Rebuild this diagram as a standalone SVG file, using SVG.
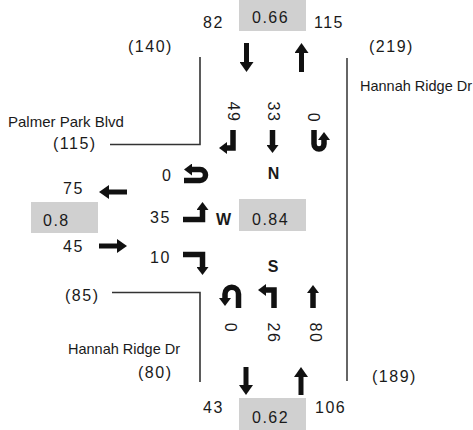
<svg xmlns="http://www.w3.org/2000/svg" width="473" height="430" viewBox="0 0 473 430">
<style>
.num{font-family:"Liberation Sans",Arial,sans-serif;font-size:16px;letter-spacing:1.5px;fill:#1a1a1a}
.street{font-family:"Liberation Sans",Arial,sans-serif;fill:#1a1a1a}
.dir{font-family:"Liberation Sans",Arial,sans-serif;font-size:16px;font-weight:bold;fill:#1a1a1a;text-anchor:middle}
.box{fill:#d0d0d0}
.road{fill:none;stroke:#333;stroke-width:1.6}
.road2{fill:none;stroke:#666;stroke-width:2}
.big{fill:none;stroke:#111;stroke-width:5}
.turn{fill:none;stroke:#111;stroke-width:5.5;stroke-linejoin:miter}
</style>
<defs>
<marker id="ah" viewBox="0 0 10 14" refX="1" refY="7" markerWidth="10" markerHeight="14" markerUnits="userSpaceOnUse" orient="auto"><path d="M0,0 L10,7 L0,14 z" fill="#111"/></marker>
<marker id="as" viewBox="0 0 8 12" refX="1" refY="6" markerWidth="8" markerHeight="12" markerUnits="userSpaceOnUse" orient="auto"><path d="M0,0 L8,6 L0,12 z" fill="#111"/></marker>
</defs>

<g id="roads">
<path class="road" d="M200 57 V144.5 H110"/>
<path class="road2" d="M347 58 V381"/>
<path class="road" d="M112 292.5 H200 V382"/>
</g>

<g id="north-approach">
<rect class="box" x="239" y="0" width="67" height="31"/>
<text class="num" x="252" y="23">0.66</text>
<text class="num" x="203" y="28">82</text>
<text class="num" x="314" y="28">115</text>
<text class="num" x="128" y="52">(140)</text>
<text class="num" x="369" y="52">(219)</text>
<text class="street" x="360" y="91" font-size="14.5">Hannah Ridge Dr</text>
</g>

<g id="west-approach">
<text class="street" x="8" y="127" font-size="15">Palmer Park Blvd</text>
<text class="num" x="53" y="149">(115)</text>
<text class="num" x="63" y="194">75</text>
<rect class="box" x="31" y="202" width="67" height="31"/>
<text class="num" x="43" y="226">0.8</text>
<text class="num" x="63" y="252">45</text>
<text class="num" x="65" y="301">(85)</text>
</g>

<g id="south-approach">
<text class="street" x="68" y="354" font-size="14.5">Hannah Ridge Dr</text>
<text class="num" x="138" y="378">(80)</text>
<text class="num" x="372" y="382">(189)</text>
<text class="num" x="203" y="413">43</text>
<text class="num" x="315" y="413">106</text>
<rect class="box" x="239" y="398" width="67" height="32"/>
<text class="num" x="252" y="423">0.62</text>
</g>

<g id="intersection">
<text class="dir" x="273.5" y="179">N</text>
<text class="dir" x="223.5" y="225">W</text>
<text class="dir" x="273" y="272">S</text>
<rect class="box" x="239" y="199" width="67" height="32"/>
<text class="num" x="252" y="225">0.84</text>
<text class="num" x="162" y="181">0</text>
<text class="num" x="150" y="223">35</text>
<text class="num" x="150" y="263">10</text>
<text class="num" text-anchor="middle" transform="translate(228,112) rotate(90)">49</text>
<text class="num" text-anchor="middle" transform="translate(268,112) rotate(90)">33</text>
<text class="num" text-anchor="middle" transform="translate(307.5,118) rotate(90)">0</text>
<text class="num" text-anchor="middle" transform="translate(225,328) rotate(90)">0</text>
<text class="num" text-anchor="middle" transform="translate(268,333) rotate(90)">26</text>
<text class="num" text-anchor="middle" transform="translate(309.5,333) rotate(90)">80</text>
</g>

<g id="connectors">
<path class="big" d="M246.5 43 V63" marker-end="url(#ah)"/>
<path class="big" d="M301.5 72 V52" marker-end="url(#ah)"/>
<path class="big" d="M246 367 V386" marker-end="url(#ah)"/>
<path class="big" d="M301 395 V376" marker-end="url(#ah)"/>
<path class="big" d="M127 192 H108" marker-end="url(#ah)"/>
<path class="big" d="M99 246 H118" marker-end="url(#ah)"/>
<path class="turn" d="M233 130 V148 H226" marker-end="url(#as)"/>
<path class="turn" d="M272.5 130 V146" marker-end="url(#as)"/>
<path class="turn" d="M314 130 V144 A5 5 0 0 0 324 144 V139" marker-end="url(#as)"/>
<path class="turn" d="M184 180.5 H200 A5.5 5.5 0 0 0 200 169.5 H191" marker-end="url(#as)"/>
<path class="turn" d="M183 219.5 H202.5 V209" marker-end="url(#as)"/>
<path class="turn" d="M183 254.5 H202.5 V268" marker-end="url(#as)"/>
<path class="turn" d="M238.5 308 V294 A6.75 6.75 0 0 0 225 294 V299" marker-end="url(#as)"/>
<path class="turn" d="M274 308 V290 H265" marker-end="url(#as)"/>
<path class="turn" d="M313 308 V292" marker-end="url(#as)"/>
</g>
</svg>
